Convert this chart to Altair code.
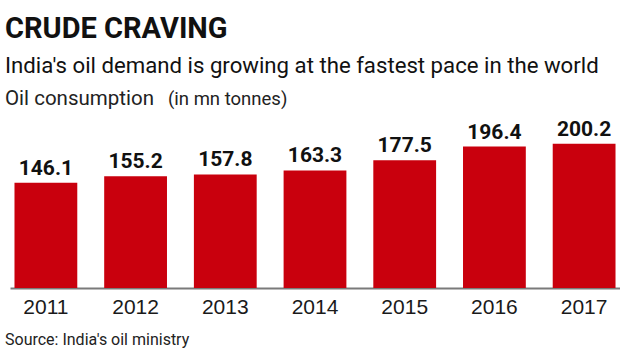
import altair as alt
import pandas as pd

years = ["2011", "2012", "2013", "2014", "2015", "2016", "2017"]
consumption = [146.1, 155.2, 157.8, 163.3, 177.5, 196.4, 200.2]

title_text = "CRUDE CRAVING"
subtitle_text = "India's oil demand is growing at the fastest pace in the world"
measure_text = "Oil consumption"
unit_text = "(in mn tonnes)"
source_text = "Source: India's oil ministry"

df = pd.DataFrame({"year": years, "value": consumption})

FONT = "Roboto, DejaVu Sans Condensed, sans-serif"

base = alt.Chart(df)

x_enc = alt.X("year:N", sort=years,
              scale=alt.Scale(paddingInner=0.3, paddingOuter=0.05),
              axis=alt.Axis(title=None, ticks=False, grid=False, domain=True,
                            domainColor="#7a7a7a", domainWidth=2,
                            labelAngle=0, labelFont="Liberation Sans, sans-serif",
                            labelFontSize=21, labelColor="#1a1a1a", labelPadding=8))
y_enc = alt.Y("value:Q", scale=alt.Scale(domain=[0, 250], nice=False, zero=True), axis=None)

bars = base.mark_bar(color="#C9000D").encode(x=x_enc, y=y_enc)

labels = base.mark_text(font=FONT, fontSize=21, fontWeight="bold", color="#111111",
                        baseline="alphabetic", dy=-8).encode(
    x=alt.X("year:N", sort=years), y="value:Q", text=alt.Text("value:Q", format=".1f"))

def note(text, x, y, size, weight="normal", font=FONT, color="#111111"):
    return alt.Chart(pd.DataFrame({"t": [text]})).mark_text(
        font=font, fontSize=size, fontWeight=weight, color=color,
        align="left", baseline="alphabetic").encode(
        x=alt.value(x), y=alt.value(y), text="t:N")

title = note(title_text, -5, -70, 29, "bold")
subtitle = note(subtitle_text, -5, -35, 22.2)
measure = note(measure_text, -5, -3, 20.5, color="#222222")
unit = note(unit_text, 158, -3, 18.5, color="#222222")
source = note(source_text, -5, 237, 16, color="#222222")

chart = alt.layer(bars, labels, title, subtitle, measure, unit, source).properties(
    width=610, height=180,
    padding={"left": 10, "top": 108, "right": 0, "bottom": 67},
    autosize=alt.AutoSizeParams(type="none"),
    background="white",
).configure_view(stroke=None)

chart.save("out.html", embed_options={"renderer": "svg", "actions": False})
